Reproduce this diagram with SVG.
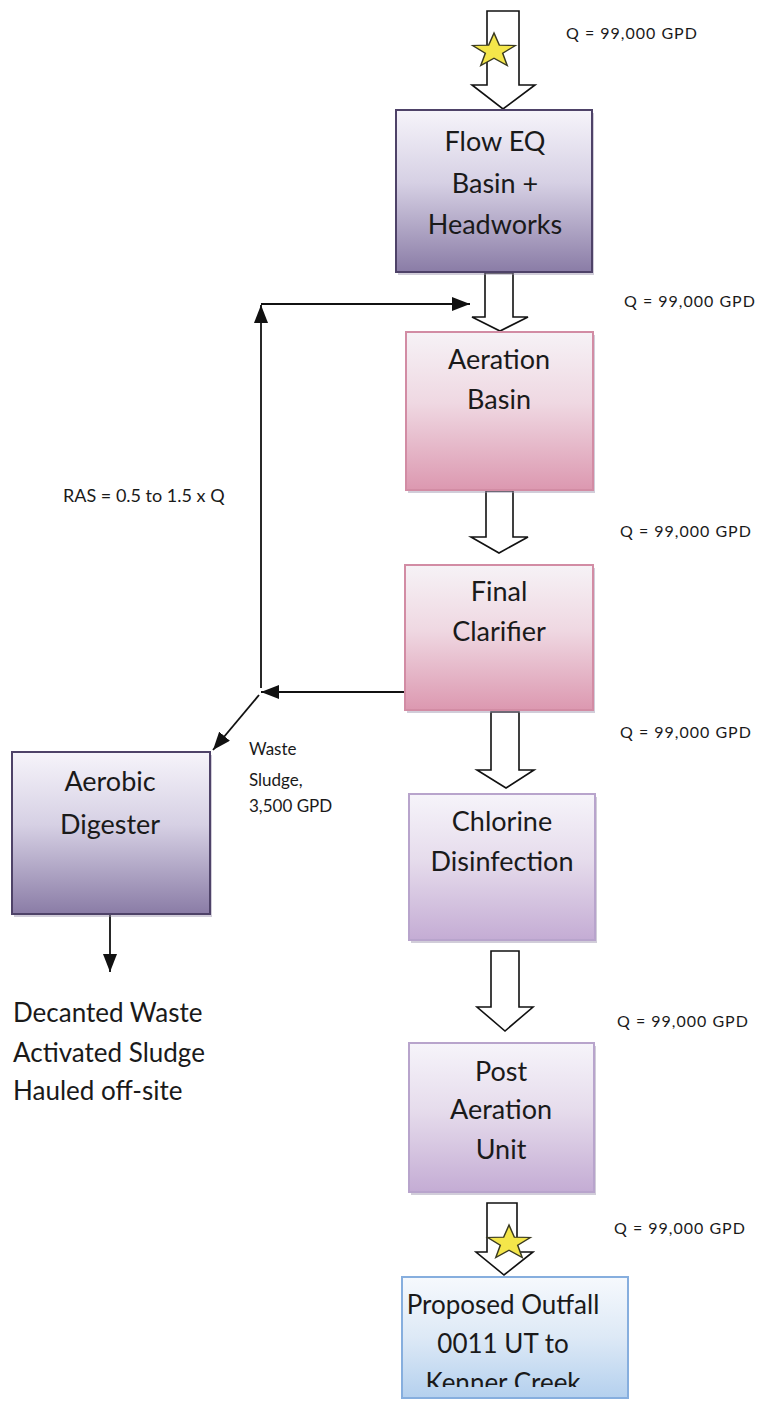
<svg xmlns="http://www.w3.org/2000/svg" width="764" height="1403" viewBox="0 0 764 1403">
<defs>
<linearGradient id="gPurple" x1="0" y1="0" x2="0" y2="1">
<stop offset="0" stop-color="#f6f4fa"/><stop offset="0.45" stop-color="#d6d0e4"/><stop offset="1" stop-color="#8a7ca6"/>
</linearGradient>
<linearGradient id="gPink" x1="0" y1="0" x2="0" y2="1">
<stop offset="0" stop-color="#f6f2f6"/><stop offset="0.45" stop-color="#efd8e2"/><stop offset="1" stop-color="#dc98b0"/>
</linearGradient>
<linearGradient id="gLav" x1="0" y1="0" x2="0" y2="1">
<stop offset="0" stop-color="#f6f4fa"/><stop offset="0.45" stop-color="#e6dcec"/><stop offset="1" stop-color="#c4acd4"/>
</linearGradient>
<linearGradient id="gBlue" x1="0" y1="0" x2="0" y2="1">
<stop offset="0" stop-color="#f6f9fd"/><stop offset="0.5" stop-color="#dde9f6"/><stop offset="1" stop-color="#b4d0ee"/>
</linearGradient>
<marker id="ah" markerUnits="userSpaceOnUse" markerWidth="18" markerHeight="14" viewBox="0 0 18 14" refX="18" refY="7" orient="auto">
<path d="M0,0 L18,7 L0,14 z" fill="#111"/>
</marker>
<polygon id="star" points="0,-18 4.29,-5.91 17.12,-5.56 6.94,2.26 10.58,14.56 0,7.3 -10.58,14.56 -6.94,2.26 -17.12,-5.56 -4.29,-5.91"/>
<clipPath id="clipOut"><rect x="400" y="1277" width="230" height="110"/></clipPath>
</defs>
<style>
.box{stroke-width:2}
.purple{fill:url(#gPurple);stroke:#4e4268}
.pink{fill:url(#gPink);stroke:#d28ca4}
.lav{fill:url(#gLav);stroke:#b8a4cc}
.blue{fill:url(#gBlue);stroke:#86aede}
.shadow{fill:#9a90aa;opacity:0.45}
.t{font-family:Lato,"Open Sans",sans-serif;font-size:27px;fill:#1a1a1a;text-anchor:middle}
.t2{font-size:26px}
.q{font-family:Lato,"Open Sans",sans-serif;font-size:16px;letter-spacing:1px;fill:#1a1a1a}
.ws{font-family:Lato,"Open Sans",sans-serif;font-size:17px;fill:#1a1a1a}
.lbl{font-family:Lato,"Open Sans",sans-serif;font-size:18px;fill:#1a1a1a}
.big{font-family:Lato,"Open Sans",sans-serif;font-size:26px;fill:#1a1a1a}
.blk{fill:#fff;stroke:#111;stroke-width:1.6;stroke-linejoin:miter}
.ln{fill:none;stroke:#111;stroke-width:1.8}
.st{fill:#f4e64a;stroke:#3a3a20;stroke-width:1.2}
</style>

<g id="connectors">
<path class="blk" d="M487,11 H519 V85 H535 L503,109 L472,85 H487 Z"/>
<use href="#star" class="st" transform="translate(494,51) scale(1.25,1)"/>
<path class="blk" d="M485,273 H513 V317 H528 L500,331 L472,317 H485 Z"/>
<path class="blk" d="M486,491 H513 V537 H528 L499,553 L471,537 H486 Z"/>
<path class="blk" d="M491,712 H519 V770 H534 L506,788 L477,770 H491 Z"/>
<path class="blk" d="M491,951 H519 V1007 H533 L505,1031 L477,1007 H491 Z"/>
<path class="blk" d="M487,1203 H517 V1252 H533 L504,1275 L476,1252 H487 Z"/>
<use href="#star" class="st" transform="translate(509,1243) scale(1.25,1)"/>
<path class="ln" d="M405,692 H261" marker-end="url(#ah)"/>
<path class="ln" d="M261,688 V305" marker-end="url(#ah)"/>
<path class="ln" d="M261,304 H470" marker-end="url(#ah)"/>
<path class="ln" d="M259,695 L213,750" marker-end="url(#ah)"/>
<path class="ln" d="M110,914 V972" marker-end="url(#ah)"/>
</g>

<g id="flow-eq">
<rect class="shadow" x="398" y="113" width="196" height="162"/>
<rect class="box purple" x="396" y="110" width="196" height="162"/>
<text class="t" x="495" y="151">Flow EQ</text>
<text class="t" x="495" y="193">Basin +</text>
<text class="t" x="495" y="234">Headworks</text>
</g>

<g id="aeration-basin">
<rect class="shadow" x="408" y="335" width="187" height="158"/>
<rect class="box pink" x="406" y="332" width="187" height="158"/>
<text class="t" x="499" y="369">Aeration</text>
<text class="t" x="499" y="409">Basin</text>
</g>

<g id="final-clarifier">
<rect class="shadow" x="407" y="568" width="188" height="145"/>
<rect class="box pink" x="405" y="565" width="188" height="145"/>
<text class="t" x="499" y="601">Final</text>
<text class="t" x="499" y="641">Clarifier</text>
</g>

<g id="chlorine-disinfection">
<rect class="shadow" x="411" y="797" width="186" height="146"/>
<rect class="box lav" x="409" y="794" width="186" height="146"/>
<text class="t" x="502" y="831">Chlorine</text>
<text class="t" x="502" y="871">Disinfection</text>
</g>

<g id="post-aeration">
<rect class="shadow" x="411" y="1046" width="185" height="149"/>
<rect class="box lav" x="409" y="1043" width="185" height="149"/>
<text class="t" x="501" y="1081">Post</text>
<text class="t" x="501" y="1119">Aeration</text>
<text class="t" x="501" y="1159">Unit</text>
</g>

<g id="outfall">
<rect class="box blue" x="402" y="1277" width="226" height="121"/>
<text class="t t2" x="503" y="1314">Proposed Outfall</text>
<text class="t t2" x="503" y="1353">0011 UT to</text>
<text class="t t2" x="503" y="1392" clip-path="url(#clipOut)">Kenner Creek</text>
</g>

<g id="aerobic-digester">
<rect class="shadow" x="14" y="755" width="198" height="162"/>
<rect class="box purple" x="12" y="752" width="198" height="162"/>
<text class="t" x="110" y="791">Aerobic</text>
<text class="t" x="110" y="834">Digester</text>
</g>

<g id="labels">
<text class="q" x="566" y="39">Q = 99,000 GPD</text>
<text class="q" x="624" y="307">Q = 99,000 GPD</text>
<text class="q" x="620" y="537">Q = 99,000 GPD</text>
<text class="q" x="620" y="738">Q = 99,000 GPD</text>
<text class="q" x="617" y="1027">Q = 99,000 GPD</text>
<text class="q" x="614" y="1234">Q = 99,000 GPD</text>
<text class="lbl" x="63" y="502">RAS = 0.5 to 1.5 x Q</text>
<text class="ws" x="249" y="755">Waste</text>
<text class="ws" x="249" y="786">Sludge,</text>
<text class="ws" x="249" y="812">3,500 GPD</text>
<text class="big" x="13" y="1022">Decanted Waste</text>
<text class="big" x="13" y="1062">Activated Sludge</text>
<text class="big" x="13" y="1100">Hauled off-site</text>
</g>
</svg>
